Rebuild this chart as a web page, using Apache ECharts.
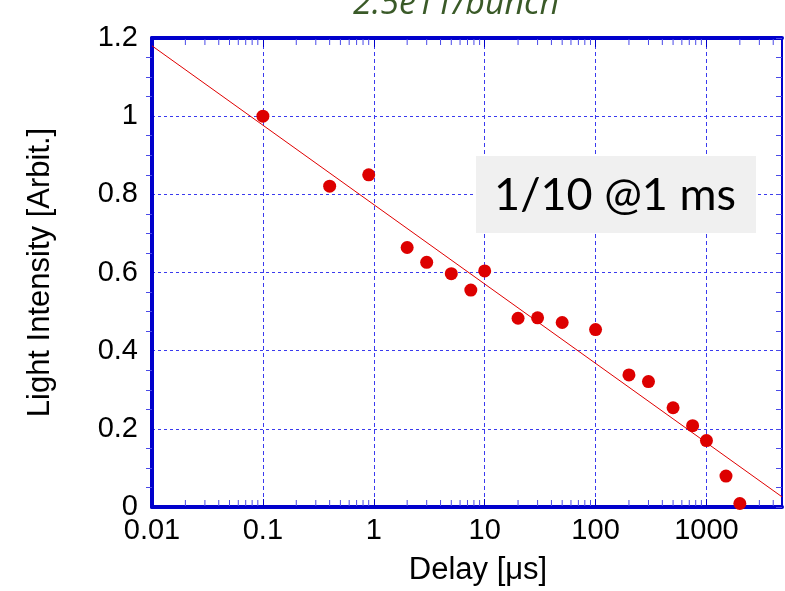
<!DOCTYPE html>
<html><head><meta charset="utf-8">
<script src="https://cdn.jsdelivr.net/npm/echarts@6/dist/echarts.min.js"></script>
<style>html,body{margin:0;padding:0;background:#fff}#c{width:785px;height:591px}</style>
</head><body><div id="c"></div>
<script>
// Measured points
const delayUs   = [0.1, 0.4, 0.9, 2, 3, 5, 7.5, 10, 20, 30, 50, 100, 200, 300, 500, 750, 1000, 1500, 2000];
const intensity = [1.0, 0.821, 0.850, 0.664, 0.626, 0.597, 0.555, 0.604, 0.483, 0.484, 0.472, 0.454, 0.338, 0.321, 0.254, 0.208, 0.170, 0.079, 0.009];
// Fitted line end points
const fitDelay = [0.01, 4800];
const fitIntensity = [1.18, 0.026];
// Axis ticks
const xTickValues = [0.01, 0.1, 1, 10, 100, 1000];
const xTickLabels = ['0.01', '0.1', '1', '10', '100', '1000'];
const minorMultipliers = [2, 3, 4, 5, 6, 7, 8, 9];
const titleText = '2.5e11/bunch';
const noteText = '1/10 @1 ms';

const minorTicks = [];
xTickValues.forEach(d => minorMultipliers.forEach(m => { const v = d * m; if (v < 4800) minorTicks.push([v, 0]); }));

const AX = '#0000cc', GRID = '#3a3aee', TICK = '#4a4ae8';
const FONT = 'Liberation Sans';

function xLabel(v) {
  for (let i = 0; i < xTickValues.length; i++) {
    if (Math.abs(Math.log10(v) - Math.log10(xTickValues[i])) < 1e-6) return xTickLabels[i];
  }
  return '';
}

const chart = echarts.init(document.getElementById('c'), null, {renderer: 'canvas'});
chart.setOption({
  animation: false,
  backgroundColor: '#fff',
  grid: {left: 152, right: 1, top: 38, bottom: 84, containLabel: false},
  xAxis: [{
    type: 'log', min: 0.01, max: 4800, logBase: 10,
    name: 'Delay [μs]', nameLocation: 'middle', nameGap: 48,
    nameTextStyle: {fontFamily: FONT, fontSize: 31, color: '#000', padding: [0, 0, 0, 22]},
    axisLine: {show: true, onZero: false, lineStyle: {color: AX, width: 4}},
    axisTick: {show: true, inside: true, length: 8, lineStyle: {color: AX, width: 1}},
    minorTick: {show: false},
    axisLabel: {fontFamily: FONT, fontSize: 29, color: '#000', margin: 9, formatter: xLabel, showMinLabel: true, showMaxLabel: true, hideOverlap: false},
    splitLine: {show: true, lineStyle: {color: GRID, width: 1, type: [4, 3]}}
  }, {
    type: 'log', min: 0.01, max: 4800, logBase: 10, position: 'top',
    axisLine: {show: true, onZero: false, lineStyle: {color: AX, width: 4}},
    axisTick: {show: true, inside: true, length: 9, lineStyle: {color: AX, width: 1}},
    axisLabel: {show: false},
    splitLine: {show: false}
  }],
  yAxis: [{
    type: 'value', min: 0, max: 1.2, interval: 0.2,
    name: 'Light Intensity [Arbit.]', nameLocation: 'middle', nameGap: 96,
    nameTextStyle: {fontFamily: FONT, fontSize: 31, color: '#000'},
    axisLine: {show: true, onZero: false, lineStyle: {color: AX, width: 4}},
    axisTick: {show: false},
    minorTick: {show: true, splitNumber: 4, length: 6, lineStyle: {color: TICK, width: 1}},
    axisLabel: {fontFamily: FONT, fontSize: 29, color: '#000', margin: 14},
    splitLine: {show: true, lineStyle: {color: GRID, width: 1, type: [3, 3]}}
  }, {
    type: 'value', min: 0, max: 1.2, interval: 0.2, position: 'right',
    axisLine: {show: true, onZero: false, lineStyle: {color: AX, width: 2}},
    axisTick: {show: true, inside: true, length: 6, lineStyle: {color: TICK, width: 1}},
    minorTick: {show: true, splitNumber: 4, length: 6, lineStyle: {color: TICK, width: 1}},
    axisLabel: {show: false},
    splitLine: {show: false}
  }],
  graphic: [
    {type: 'text', z: 100,
     style: {x: 456, y: 4, text: titleText, fill: '#3a5a28', font: 'italic 34px "Open Sans"', textAlign: 'center', textVerticalAlign: 'middle'}},
    {type: 'rect', z: 50, shape: {x: 476, y: 156, width: 280, height: 77}, style: {fill: '#f0f0f0'}},
    {type: 'text', z: 51, style: {x: 615, y: 195, text: noteText, fill: '#000', font: '45px Lato', textAlign: 'center', textVerticalAlign: 'middle'}}
  ],
  series: [{
    type: 'custom', coordinateSystem: 'cartesian2d', xAxisIndex: 0, yAxisIndex: 0, silent: true, clip: false, z: 3,
    data: minorTicks,
    renderItem: function (params, api) {
      const v = api.value(0);
      const b = api.coord([v, 0]);
      const t = api.coord([v, 1.2]);
      return {type: 'group', children: [
        {type: 'line', shape: {x1: b[0], y1: b[1] - 1, x2: b[0], y2: b[1] - 7}, style: {stroke: TICK, lineWidth: 1}},
        {type: 'line', shape: {x1: t[0], y1: t[1] + 1, x2: t[0], y2: t[1] + 7}, style: {stroke: TICK, lineWidth: 1}}
      ]};
    }
  }, {
    type: 'line', data: fitDelay.map((d, i) => [d, fitIntensity[i]]),
    symbol: 'none', lineStyle: {color: '#e00000', width: 1}, z: 4, silent: true
  }, {
    type: 'scatter', data: delayUs.map((d, i) => [d, intensity[i]]),
    symbol: 'circle', symbolSize: 13, itemStyle: {color: '#dd0000', opacity: 1}, z: 5, clip: false
  }]
});
</script></body></html>
